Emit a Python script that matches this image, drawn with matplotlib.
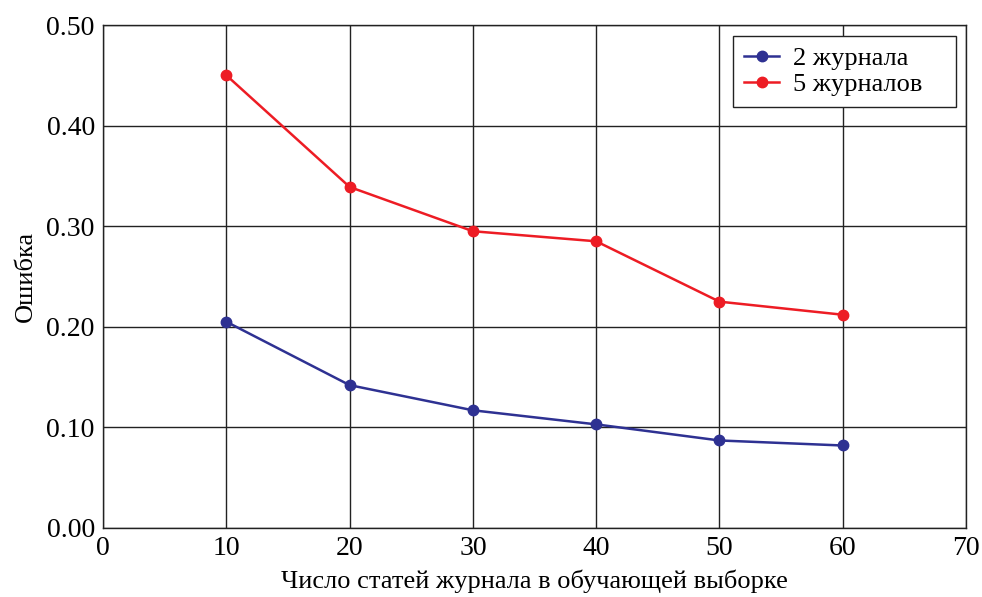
import matplotlib.pyplot as plt

plt.rcParams['font.family'] = ['Liberation Serif', 'DejaVu Serif']

# data
articles = [10, 20, 30, 40, 50, 60]
err_2 = [0.205, 0.142, 0.117, 0.103, 0.087, 0.082]
err_5 = [0.450, 0.339, 0.295, 0.285, 0.225, 0.212]

fig = plt.figure(figsize=(9.82, 5.97), dpi=100)
ax = fig.add_axes([0.105, 0.1156, 0.8787, 0.8425])

ax.plot(articles, err_2, color='#2e3192', marker='o', markersize=7.5, lw=1.8, label='2 журнала', zorder=3)
ax.plot(articles, err_5, color='#ed1c24', marker='o', markersize=7.5, lw=1.8, label='5 журналов', zorder=3)

ax.set_xlim(0, 70)
ax.set_ylim(0, 0.5)
ax.set_xticks(range(0, 71, 10))
ax.set_yticks([0, 0.1, 0.2, 0.3, 0.4, 0.5])
ax.set_yticklabels(['%.2f' % v for v in ax.get_yticks()])
ax.tick_params(length=0, labelsize=20, pad=6)
ax.grid(True, color='#222222', lw=1.0)
for s in ax.spines.values():
    s.set_color('#222222')
    s.set_linewidth(1.0)

ax.set_xlabel('Число статей журнала в обучающей выборке', fontsize=19, labelpad=6)
ax.set_ylabel('Ошибка', fontsize=19, labelpad=7)

leg = ax.legend(loc='upper right', bbox_to_anchor=(0.730, 0.5, 0.2584, 0.478),
                mode='expand', fontsize=19, fancybox=False, framealpha=1,
                edgecolor='#222222', borderaxespad=0.0, handlelength=1.36,
                labelspacing=0.1, handletextpad=0.53, borderpad=0.4)
leg.get_frame().set_linewidth(1.0)

fig.savefig('out.png', dpi=100)
